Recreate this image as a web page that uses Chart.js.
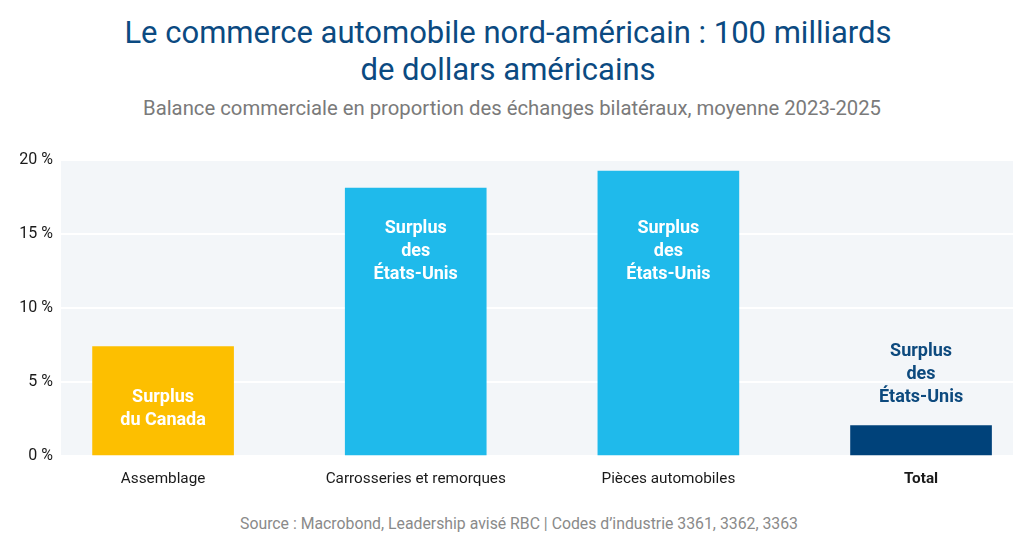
<!DOCTYPE html>
<html lang="fr">
<head>
    <meta charset="UTF-8">
    <title>Le commerce automobile nord-américain</title>
    <script src="https://cdn.jsdelivr.net/npm/chart.js"></script>
    <style>
        body {
            margin: 0;
            width: 1024px;
            height: 539px;
            background: #ffffff;
            font-family: Roboto, Arial, sans-serif;
            position: relative;
            overflow: hidden;
        }
        .title {
            position: absolute;
            top: 14px;
            left: 0;
            width: 1016px;
            text-align: center;
            color: #0b4a81;
            font-size: 31px;
            line-height: 37px;
        }
        .subtitle {
            position: absolute;
            top: 96px;
            left: 0;
            width: 1024px;
            text-align: center;
            color: #7a7a7a;
            font-size: 20.3px;
        }
        .source {
            position: absolute;
            top: 514px;
            left: 0;
            width: 1038px;
            text-align: center;
            color: #8a8a8a;
            font-size: 15.8px;
        }
        #wrap {
            position: absolute;
            left: 0;
            top: 140px;
            width: 1024px;
            height: 360px;
        }
    </style>
</head>
<body>
    <div class="title">Le commerce automobile nord-américain : 100 milliards<br>de dollars américains</div>
    <div class="subtitle">Balance commerciale en proportion des échanges bilatéraux, moyenne 2023-2025</div>
    <div id="wrap"><canvas id="chart"></canvas></div>
    <div class="source">Source : Macrobond, Leadership avisé RBC | Codes d’industrie 3361, 3362, 3363</div>

    <script>
        // data
        const categories = ['Assemblage', 'Carrosseries et remorques', 'Pièces automobiles', 'Total'];
        const values = [7.4, 18.1, 19.25, 2.05];
        const barColors = ['#fdbf00', '#1fbaeb', '#1fbaeb', '#00427a'];
        const barLabels = [
            ['Surplus', 'du Canada'],
            ['Surplus', 'des', 'États-Unis'],
            ['Surplus', 'des', 'États-Unis'],
            ['Surplus', 'des', 'États-Unis']
        ];
        const labelColors = ['#ffffff', '#ffffff', '#ffffff', '#0d4a7e'];
        const yTicks = [0, 5, 10, 15, 20];

        const plotBg = {
            id: 'plotBg',
            beforeDraw(chart) {
                const a = chart.chartArea;
                const c = chart.ctx;
                c.save();
                c.fillStyle = '#f3f6f9';
                c.fillRect(a.left, a.top, a.right - a.left, a.bottom - a.top);
                c.restore();
            }
        };

        const barText = {
            id: 'barText',
            afterDatasetsDraw(chart) {
                const c = chart.ctx;
                const y = chart.scales.y;
                const bars = chart.getDatasetMeta(0).data;
                const lh = 23;
                c.save();
                c.font = 'bold 18px Roboto, Arial, sans-serif';
                c.textAlign = 'center';
                c.textBaseline = 'middle';
                bars.forEach((bar, i) => {
                    const lines = barLabels[i];
                    let mid;
                    if (values[i] > 10) mid = y.getPixelForValue(14) + 3;
                    else if (values[i] > 5) mid = (bar.y + bar.base) / 2 + 8;
                    else mid = bar.y - 28 - (lines.length - 1) * lh / 2;
                    c.fillStyle = labelColors[i];
                    lines.forEach((t, k) => {
                        c.fillText(t, bar.x, mid + (k - (lines.length - 1) / 2) * lh);
                    });
                });
                c.restore();
            }
        };

        const ctx = document.getElementById('chart').getContext('2d');
        const chart = new Chart(ctx, {
            type: 'bar',
            data: {
                datasets: [{
                    data: values.map((v, i) => ({ x: i, y: v })),
                    backgroundColor: barColors,
                    borderWidth: 0,
                    barThickness: 141
                }]
            },
            options: {
                responsive: true,
                maintainAspectRatio: false,
                animation: false,
                layout: { padding: { top: 20, right: 11, left: 0, bottom: 0 } },
                plugins: { legend: { display: false }, tooltip: { enabled: false } },
                scales: {
                    x: {
                        type: 'linear',
                        offset: false,
                        min: -0.404,
                        max: 3.364,
                        grid: { display: false, offset: false },
                        border: { display: false },
                        afterBuildTicks: s => { s.ticks = categories.map((_, i) => ({ value: i })); },
                        afterFit: s => { s.height = 44; },
                        ticks: {
                            padding: 6,
                            color: '#1a1a1a',
                            maxRotation: 0,
                            autoSkip: false,
                            font: ctx => ({
                                family: 'Roboto, Arial, sans-serif',
                                size: 15.3,
                                weight: ctx.index === categories.length - 1 ? 'bold' : 'normal'
                            }),
                            callback: v => categories[v]
                        }
                    },
                    y: {
                        min: 0,
                        max: 20,
                        afterBuildTicks: s => { s.ticks = yTicks.map(v => ({ value: v })); },
                        afterFit: s => { s.width = 61; },
                        grid: { color: '#ffffff', lineWidth: 2, drawTicks: false },
                        border: { display: false },
                        ticks: {
                            padding: 8,
                            color: '#1a1a1a',
                            font: { family: 'Roboto, Arial, sans-serif', size: 16 },
                            callback: v => v + ' %'
                        }
                    }
                }
            },
            plugins: [plotBg, barText]
        });
    </script>
</body>
</html>
